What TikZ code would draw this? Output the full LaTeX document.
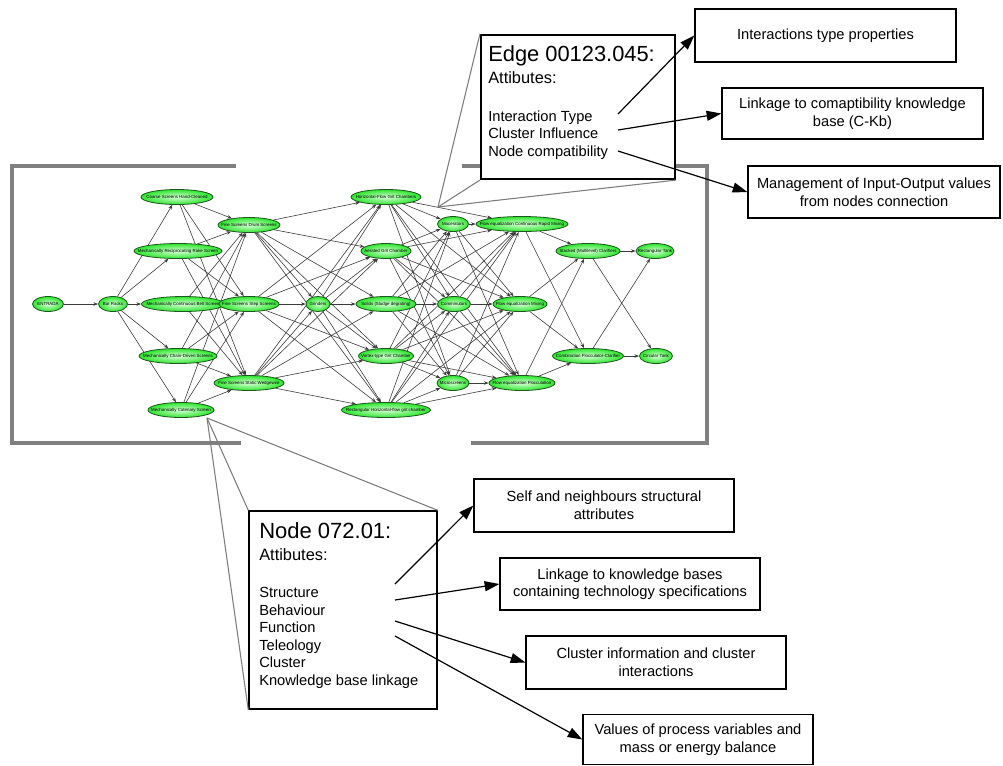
\documentclass[tikz,border=0pt]{standalone}
\usepackage{fontspec}
\setmainfont{Liberation Sans}
\usetikzlibrary{shapes.geometric,arrows.meta}
\pgfdeclarelayer{bg}
\pgfsetlayers{bg,main}

\definecolor{framegray}{RGB}{128,128,128}
\definecolor{calloutgray}{RGB}{125,125,125}
\definecolor{edgegray}{RGB}{60,60,60}
\definecolor{nodeline}{RGB}{30,85,30}
\definecolor{nodegreen}{RGB}{45,230,45}
\definecolor{nodelight}{RGB}{215,255,215}

% graph node: #1 name, #2 x, #3 y, #4 width (px), #5 label
\newcommand\gnode[5]{\node[ell=#4] (#1) at (#2,#3) {\makebox[0pt]{#5}};}

\tikzset{
  ell/.style={ellipse, draw=nodeline, line width=0.6pt,
    inner color=nodelight, outer color=nodegreen,
    minimum width=#1*0.75pt, minimum height=15*0.75pt, inner sep=0pt,
    font=\fontsize{3.3}{3.7}\selectfont},
  gedge/.style={draw=edgegray, line width=0.45pt,
    -{Stealth[length=3.5pt,width=2.6pt]}},
  frameline/.style={draw=framegray, line width=3.6pt},
  callout/.style={draw=calloutgray, line width=0.8pt},
  infobox/.style={draw=black, fill=white, line width=1pt, align=center,
    inner sep=0pt, font=\fontsize{11}{13.2}\selectfont},
  bigarrow/.style={draw=black, line width=0.9pt,
    -{Triangle[length=11pt,width=7.5pt]}},
  boxtext/.style={anchor=base west, inner sep=0pt},
}

\begin{document}
\begin{tikzpicture}[x=0.75pt,y=-0.75pt]
\useasboundingbox (0,0) rectangle (1003,765);

% ---------- frame around the process network ----------
\draw[frameline] (236,166) -- (12,166) -- (12,443) -- (241,443);
\draw[frameline] (462,166) -- (707,166) -- (707,443) -- (471,443);

% ---------- process network nodes ----------
\gnode{E}{48}{304}{31}{ENTRADA}
\gnode{BR}{113}{304}{29}{Bar Racks}
\gnode{CS}{177}{197}{72}{Coarse Screens Hand-Cleaned}
\gnode{MR}{178}{251}{88}{Mechanically Reciprocating Rake Screen}
\gnode{MB}{183}{304}{83}{Mechanically Continuous Belt Screen}
\gnode{MC}{178}{356}{78}{Mechanically Chain-Driven Screens}
\gnode{MK}{181}{410}{66}{Mechanically Catenary Screen}
\gnode{FD}{249}{225}{62}{Fine Screens Drum Screens}
\gnode{FS}{249}{304}{60}{Fine Screens Step Screens}
\gnode{FW}{249}{383}{70}{Fine Screens Static  Wedgewire}
\gnode{G}{318}{304}{24}{Grinders}
\gnode{HG}{386}{197}{70}{Horizontal-Flow Grit Chambers}
\gnode{AG}{386}{251}{50}{Aerated Grit Chamber}
\gnode{SD}{386}{304}{60}{Solids (Sludge degrating)}
\gnode{VG}{386}{356}{55}{Vortex-type Grit Chamber}
\gnode{RG}{386}{410}{89}{Rectangular Horizontal-flow grit chamber}
\gnode{MA}{453}{224}{31}{Macerators}
\gnode{CO}{454}{304}{33}{Comminutors}
\gnode{MS}{453}{383}{32}{Microscreens}
\gnode{FR}{522}{224}{92}{Flow equalization Continuous Rapid Mixing}
\gnode{FM}{520}{304}{54}{Flow equalization Mixing}
\gnode{FF}{522}{383}{66}{Flow equalization  Flocculation}
\gnode{SC}{588}{251}{64}{Stacked (Multilevel) Clarifiers}
\gnode{CF}{588}{356}{71}{Combination Flocculator-Clarifier}
\gnode{RT}{655}{251}{38}{Rectangular Tank}
\gnode{CT}{656}{356}{33}{Circular Tank}

% ---------- process network connections ----------
\begin{pgfonlayer}{bg}
\draw[gedge] (E) -- (BR);
\foreach \b in {CS,MR,MB,MC,MK} \draw[gedge] (BR) -- (\b);
\foreach \a in {CS,MR,MB,MC,MK}
  \foreach \b in {FD,FS,FW} \draw[gedge] (\a) -- (\b);
\foreach \a in {FD,FS,FW} \draw[gedge] (\a) -- (G);
\foreach \a/\b in {FD/HG,FD/AG,FD/SD,FD/VG,FD/RG,
                   FS/HG,FS/AG,FS/VG,FS/RG,
                   FW/HG,FW/AG,FW/SD,FW/VG,FW/RG,
                   G/HG,G/AG,G/SD,G/VG,G/RG}
  \draw[gedge] (\a) -- (\b);
\foreach \a in {HG,AG,SD,VG,RG}
  \foreach \b in {MA,CO,MS} \draw[gedge] (\a) -- (\b);
\foreach \a/\b in {HG/FR,HG/FM,HG/FF,AG/FR,AG/FM,AG/FF,SD/FR,SD/FF,
                   VG/FR,VG/FM,VG/FF,RG/FR,RG/FM,RG/FF}
  \draw[gedge] (\a) -- (\b);
\foreach \a in {MA,CO,MS}
  \foreach \b in {FR,FM,FF} \draw[gedge] (\a) -- (\b);
\foreach \a in {FR,FM,FF}
  \foreach \b in {SC,CF} \draw[gedge] (\a) -- (\b);
\foreach \a in {SC,CF}
  \foreach \b in {RT,CT} \draw[gedge] (\a) -- (\b);
\end{pgfonlayer}

% ---------- edge attribute box ----------
\coordinate (ecal) at (438,207);
\node[draw=black, fill=white, line width=1.6pt, minimum width=194*0.75pt,
      minimum height=144*0.75pt, inner sep=0pt] (EB) at (578,107) {};
\draw[callout] (ecal) -- (EB.north west);
\draw[callout] (ecal) -- (EB.south west);
\draw[callout] (ecal) -- (EB.south east);
\node[boxtext, font=\fontsize{16.4}{18}\selectfont] (et1) at (488,61) {Edge 00123.045:};
\node[boxtext, font=\fontsize{12.3}{14}\selectfont] (et2) at (488,83) {Attibutes:};
\node[boxtext, font=\fontsize{11}{13}\selectfont] (et3) at (488,121) {Interaction Type};
\node[boxtext, font=\fontsize{11}{13}\selectfont] (et4) at (488,138) {Cluster Influence};
\node[boxtext, font=\fontsize{11}{13}\selectfont] (et5) at (488,156) {Node compatibility};

\node[infobox, minimum width=261*0.75pt, minimum height=53*0.75pt] (ITP) at (825.5,35.5)
  {Interactions type properties};
\node[infobox, minimum width=261*0.75pt, minimum height=51*0.75pt] (CKB) at (852.5,113.5)
  {Linkage to comaptibility knowledge\\base (C-Kb)};
\node[infobox, minimum width=252*0.75pt, minimum height=52*0.75pt] (MGT) at (874,192)
  {Management of Input-Output values\\from nodes connection};

\coordinate (ea1) at (618,114);
\coordinate (ea2) at (618,130);
\coordinate (ea3) at (618,151);
\draw[bigarrow] (ea1) -- (ITP.west);
\draw[bigarrow] (ea2) -- (CKB.west);
\draw[bigarrow] (ea3) -- (MGT.west);

% ---------- node attribute box ----------
\coordinate (ncal) at (207,418);
\node[draw=black, fill=white, line width=1.1pt, minimum width=188*0.75pt,
      minimum height=198*0.75pt, inner sep=0pt] (NB) at (343,610) {};
\draw[callout] (ncal) -- (NB.north west);
\draw[callout] (ncal) -- (NB.south west);
\draw[callout] (ncal) -- (NB.north east);
\node[boxtext, font=\fontsize{16.5}{18}\selectfont] (nt1) at (259,538) {Node 072.01:};
\node[boxtext, font=\fontsize{12.3}{14}\selectfont] (nt2) at (259,560) {Attibutes:};
\node[boxtext, font=\fontsize{11}{13}\selectfont] (nt3) at (259,597) {Structure};
\node[boxtext, font=\fontsize{11}{13}\selectfont] (nt4) at (259,615) {Behaviour};
\node[boxtext, font=\fontsize{11}{13}\selectfont] (nt5) at (259,632) {Function};
\node[boxtext, font=\fontsize{11}{13}\selectfont] (nt6) at (259,650) {Teleology};
\node[boxtext, font=\fontsize{11}{13}\selectfont] (nt7) at (259,667) {Cluster};
\node[boxtext, font=\fontsize{11}{13}\selectfont] (nt8) at (259,685) {Knowledge base linkage};

\node[infobox, minimum width=260*0.75pt, minimum height=53*0.75pt] (SELF) at (604,505.5)
  {Self and neighbours structural\\attributes};
\node[infobox, minimum width=260*0.75pt, minimum height=52*0.75pt] (LKB) at (630,584)
  {Linkage to knowledge bases\\containing technology specifications};
\node[infobox, minimum width=260*0.75pt, minimum height=53*0.75pt] (CLU) at (656,662.5)
  {Cluster information and cluster\\interactions};
\node[infobox, minimum width=230*0.75pt, minimum height=50*0.75pt] (VAL) at (698,739.5)
  {Values of process variables and\\mass or energy balance};

\coordinate (na1) at (395,584);
\coordinate (na2) at (395,600);
\coordinate (na3) at (395,621);
\coordinate (na4) at (395,636);
\draw[bigarrow] (na1) -- (SELF.west);
\draw[bigarrow] (na2) -- (LKB.west);
\draw[bigarrow] (na3) -- (CLU.west);
\draw[bigarrow] (na4) -- (VAL.west);
\end{tikzpicture}
\end{document}
